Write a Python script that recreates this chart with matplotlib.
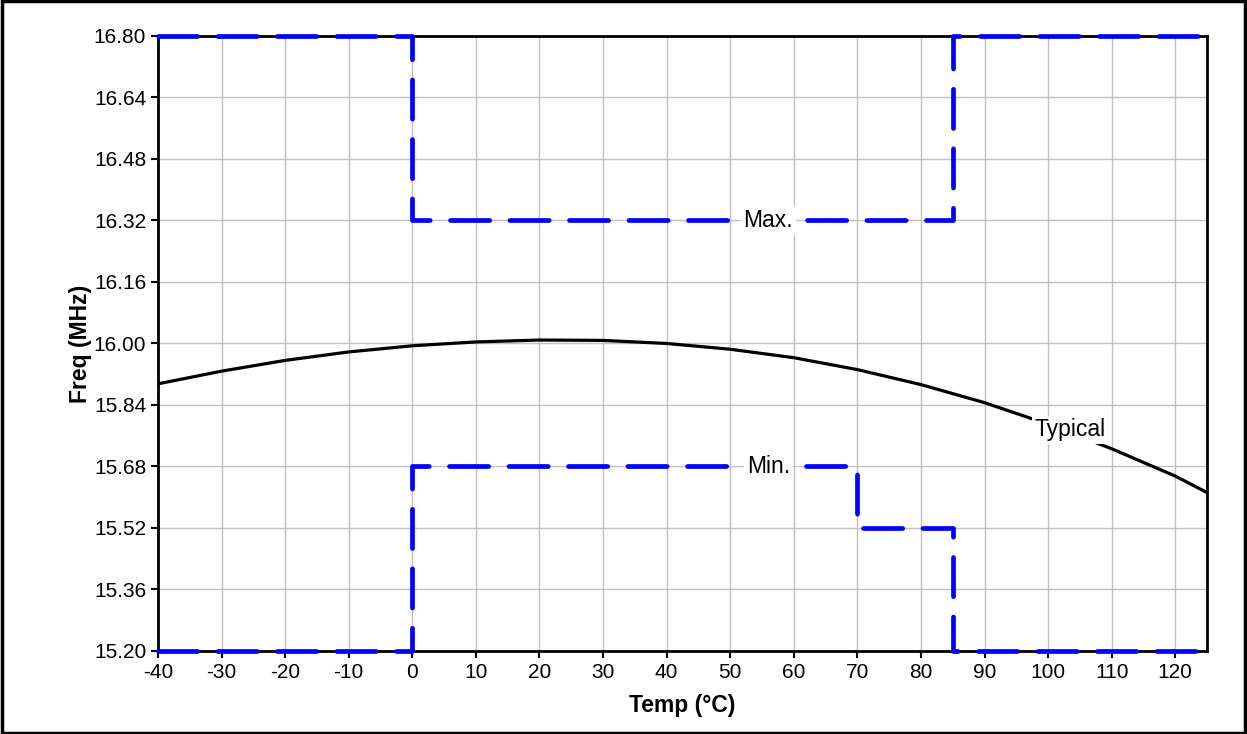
import matplotlib.pyplot as plt
from matplotlib.patches import Rectangle

plt.rcParams['font.family'] = ['Liberation Sans', 'DejaVu Sans']
plt.rcParams['axes.unicode_minus'] = False

# typical frequency vs temperature
temp = [-40, -30, -20, -10, 0, 10, 20, 30, 40, 50, 60, 70, 80, 90, 100, 110, 120, 125]
freq_typ = [15.895, 15.928, 15.956, 15.978, 15.994, 16.004, 16.009, 16.008, 16.000,
            15.985, 15.963, 15.932, 15.893, 15.846, 15.790, 15.726, 15.655, 15.612]

# max / min limits (step lines)
max_temp = [-40, 0, 85, 125]
max_freq = [16.80, 16.32, 16.80, 16.80]
min_temp = [-40, 0, 70, 85, 125]
min_freq = [15.20, 15.68, 15.52, 15.20, 15.20]

xticks = list(range(-40, 121, 10))
yticks = [15.20, 15.36, 15.52, 15.68, 15.84, 16.00, 16.16, 16.32, 16.48, 16.64, 16.80]

fig = plt.figure(figsize=(12.47, 7.34), dpi=100)
ax = fig.add_axes([0.1267, 0.1131, 0.8413, 0.8379])

ax.plot(temp, freq_typ, color='black', lw=2.3, zorder=3)
ax.plot(max_temp, max_freq, drawstyle='steps-post', color='#0000ff', lw=3.4,
        linestyle=(0, (8.3, 4.3)), dash_capstyle='round', clip_on=False, zorder=4)
ax.plot(min_temp, min_freq, drawstyle='steps-post', color='#0000ff', lw=3.4,
        linestyle=(0, (8.3, 4.3)), dash_capstyle='round', clip_on=False, zorder=4)

box = dict(facecolor='white', edgecolor='none', pad=2)
ax.text(56, 16.32, 'Max.', fontsize=16.5, ha='center', va='center', bbox=box, zorder=5)
ax.text(56, 15.68, 'Min.', fontsize=16.5, ha='center', va='center', bbox=box, zorder=5)
ax.text(103.5, 15.775, 'Typical', fontsize=16.5, ha='center', va='center', bbox=box, zorder=5)

ax.set_xlim(-40, 125)
ax.set_ylim(15.20, 16.80)
ax.set_xticks(xticks)
ax.set_yticks(yticks)
ax.set_yticklabels(['%.2f' % v for v in yticks])
ax.tick_params(labelsize=15, direction='out', length=5, width=1.5, color='black')
ax.tick_params(axis='x', pad=4)
ax.grid(True, color='#c0c0c0', lw=1)
ax.set_axisbelow(True)
for s in ax.spines.values():
    s.set_linewidth(2)

ax.set_xlabel('Temp (°C)', fontsize=16.5, fontweight='bold', labelpad=8)
ax.set_ylabel('Freq (MHz)', fontsize=16.5, fontweight='bold', labelpad=1)

# outer frame
fig.patches.append(Rectangle((0.0015, 0.002), 0.997, 0.996, transform=fig.transFigure,
                             fill=False, edgecolor='black', lw=2.5))

fig.savefig('out.png', dpi=100)
